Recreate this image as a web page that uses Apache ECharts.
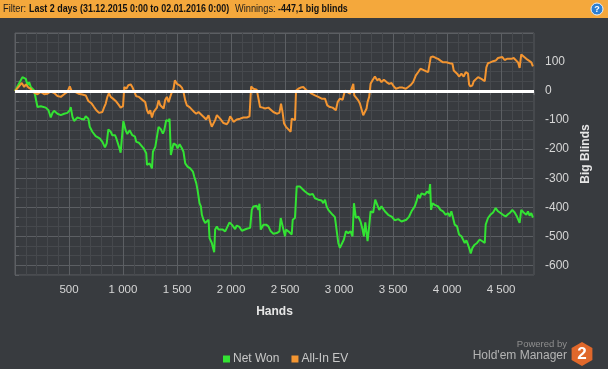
<!DOCTYPE html>
<html>
<head>
<meta charset="utf-8">
<script src="https://cdn.jsdelivr.net/npm/echarts@6.0.0/dist/echarts.min.js"></script>
<style>
html,body{margin:0;padding:0;background:#383b3f;}
#chart{width:608px;height:369px;}
</style>
</head>
<body>
<div id="chart"></div>
<script>
// ---- data (hands, big blinds) ----
const seriesNames = ['Net Won', 'All-In EV'];
const netWon = [[0,0],[14,2],[69,48],[100,42],[116,20],[131,31],[146,14],[162,20],[177,2],[193,8],[208,-55],[239,-52],[285,-57],[310,-66],[331,-91],[347,-75],[362,-68],[393,-78],[424,-83],[455,-78],[485,-75],[507,-66],[516,-55],[532,-89],[547,-103],[578,-91],[609,-95],[639,-98],[655,-87],[679,-95],[692,-123],[716,-140],[747,-155],[784,-163],[809,-175],[833,-194],[849,-180],[864,-132],[886,-140],[901,-152],[926,-152],[938,-163],[963,-192],[978,-212],[994,-209],[1003,-103],[1024,-135],[1040,-148],[1061,-135],[1086,-152],[1111,-157],[1123,-175],[1148,-178],[1160,-180],[1191,-197],[1215,-214],[1222,-254],[1246,-249],[1268,-266],[1277,-209],[1299,-192],[1314,-186],[1329,-123],[1351,-132],[1369,-146],[1382,-135],[1400,-100],[1422,-103],[1431,-95],[1443,-220],[1456,-226],[1468,-180],[1493,-186],[1505,-197],[1524,-183],[1545,-197],[1560,-209],[1576,-249],[1597,-260],[1622,-266],[1647,-277],[1659,-294],[1678,-317],[1690,-340],[1708,-386],[1721,-397],[1730,-426],[1745,-443],[1761,-454],[1776,-460],[1792,-443],[1801,-506],[1822,-523],[1844,-555],[1853,-477],[1869,-466],[1884,-477],[1899,-483],[1924,-477],[1946,-483],[1961,-477],[1986,-452],[2007,-460],[2023,-466],[2038,-475],[2053,-463],[2078,-468],[2100,-481],[2115,-477],[2146,-474],[2177,-471],[2192,-409],[2207,-397],[2238,-395],[2254,-409],[2263,-388],[2275,-477],[2300,-460],[2325,-460],[2346,-466],[2368,-483],[2392,-491],[2423,-489],[2448,-483],[2460,-437],[2472,-443],[2485,-477],[2500,-500],[2509,-477],[2531,-483],[2546,-489],[2562,-494],[2571,-443],[2592,-437],[2608,-329],[2639,-329],[2663,-338],[2685,-346],[2706,-352],[2731,-357],[2756,-354],[2777,-369],[2808,-374],[2839,-377],[2854,-386],[2870,-374],[2885,-397],[2901,-409],[2916,-414],[2941,-426],[2962,-434],[2978,-437],[2993,-523],[3008,-540],[3024,-534],[3045,-511],[3064,-483],[3085,-489],[3107,-483],[3125,-500],[3138,-386],[3156,-437],[3178,-432],[3199,-449],[3218,-477],[3230,-500],[3243,-452],[3255,-489],[3264,-517],[3279,-466],[3292,-414],[3301,-409],[3316,-418],[3335,-374],[3353,-380],[3372,-409],[3393,-397],[3424,-414],[3455,-426],[3486,-432],[3517,-445],[3548,-441],[3578,-449],[3594,-449],[3624,-443],[3649,-432],[3671,-414],[3686,-418],[3701,-397],[3717,-380],[3732,-357],[3748,-369],[3763,-352],[3794,-357],[3815,-346],[3834,-352],[3843,-320],[3852,-409],[3865,-386],[3886,-392],[3917,-397],[3939,-409],[3963,-414],[3988,-426],[4010,-420],[4025,-432],[4040,-414],[4056,-437],[4071,-460],[4093,-466],[4111,-494],[4133,-500],[4148,-506],[4164,-523],[4179,-514],[4194,-529],[4210,-546],[4219,-559],[4235,-540],[4256,-529],[4278,-523],[4302,-511],[4327,-517],[4349,-523],[4358,-460],[4370,-454],[4379,-437],[4401,-426],[4426,-418],[4450,-403],[4472,-414],[4487,-420],[4518,-426],[4543,-432],[4564,-424],[4586,-418],[4604,-409],[4626,-418],[4647,-432],[4672,-454],[4687,-409],[4709,-418],[4734,-426],[4749,-414],[4764,-429],[4780,-420],[4795,-436]];
const allInEV = [[0,0],[45,20],[63,28],[85,14],[100,23],[125,12],[146,8],[162,-3],[186,-7],[208,-11],[239,-3],[270,-11],[300,-9],[331,-1],[362,-7],[393,-17],[424,-20],[455,-11],[485,-3],[507,16],[525,0],[556,-3],[587,-9],[624,-12],[655,-15],[679,-34],[710,-43],[732,-55],[753,-66],[778,-75],[793,-80],[809,-72],[824,-57],[840,-43],[855,-20],[870,-7],[886,-20],[907,-26],[932,-34],[957,-46],[978,-57],[1000,-52],[1012,14],[1031,8],[1049,20],[1071,23],[1086,14],[1102,8],[1123,-18],[1148,-20],[1160,-26],[1185,-32],[1206,-38],[1222,-66],[1237,-78],[1252,-66],[1268,-91],[1283,-72],[1299,-66],[1314,-57],[1329,-32],[1345,-49],[1360,-55],[1376,-60],[1391,-30],[1406,-20],[1422,-38],[1437,-20],[1453,-3],[1468,8],[1480,37],[1499,25],[1524,20],[1545,12],[1560,-3],[1576,-32],[1591,-49],[1616,-55],[1638,-64],[1659,-72],[1678,-78],[1699,-72],[1715,-68],[1730,-83],[1752,-91],[1770,-98],[1792,-83],[1807,-106],[1822,-123],[1838,-118],[1853,-100],[1869,-83],[1884,-87],[1899,-95],[1915,-100],[1930,-110],[1946,-112],[1961,-114],[1976,-106],[1992,-87],[2007,-95],[2023,-106],[2038,-100],[2053,-98],[2084,-95],[2115,-91],[2146,-91],[2171,-87],[2186,16],[2207,8],[2238,5],[2254,8],[2269,-55],[2294,-57],[2315,-60],[2346,-57],[2368,-64],[2392,-72],[2423,-78],[2448,-75],[2463,-43],[2478,-75],[2491,-112],[2509,-123],[2531,-132],[2552,-140],[2562,-95],[2577,-95],[2592,-100],[2602,2],[2623,8],[2645,12],[2669,14],[2700,2],[2725,-3],[2746,-9],[2777,-15],[2808,-20],[2839,-26],[2870,-26],[2891,-49],[2916,-55],[2941,-57],[2971,-66],[2987,-38],[3008,-26],[3033,-30],[3055,2],[3076,-3],[3101,-9],[3116,-15],[3132,25],[3141,-15],[3156,-20],[3178,-32],[3193,-43],[3209,-49],[3224,-83],[3239,-87],[3255,-60],[3264,-38],[3279,-20],[3292,25],[3310,37],[3332,50],[3353,37],[3372,42],[3393,31],[3415,39],[3440,31],[3464,25],[3486,28],[3507,16],[3526,8],[3557,12],[3588,12],[3618,8],[3640,14],[3661,20],[3686,31],[3711,54],[3732,65],[3754,77],[3779,73],[3803,69],[3825,65],[3840,60],[3849,117],[3871,119],[3896,114],[3917,111],[3939,105],[3963,99],[3994,99],[4025,96],[4050,94],[4062,71],[4080,65],[4093,60],[4111,50],[4133,60],[4154,50],[4173,65],[4194,60],[4204,23],[4216,16],[4235,20],[4247,34],[4265,39],[4287,48],[4302,42],[4318,42],[4333,37],[4349,34],[4364,82],[4379,96],[4401,99],[4426,103],[4450,105],[4472,114],[4487,119],[4512,117],[4533,107],[4555,111],[4573,105],[4595,111],[4617,114],[4635,119],[4657,99],[4672,80],[4687,126],[4709,119],[4734,111],[4758,105],[4780,99],[4795,85]];
const xTickLabels = [500, 1000, 1500, 2000, 2500, 3000, 3500, 4000, 4500];
const yTickLabels = [-600, -500, -400, -300, -200, -100, 0, 100];
const handsMax = 4805;
const bbMin = -1900 / 3;
const bbMax = 200;
const headerParts = ['Filter:', 'Last 2 days (31.12.2015 0:00 to 02.01.2016 0:00)', 'Winnings:', '-447,1 big blinds'];

// ---- styles ----
const FONT = 'Liberation Sans, Arial, sans-serif';
const GREEN = '#33e333';
const ORANGE = '#f39531';
const MAJOR = '#5c5f63';
const MINOR = '#46494d';

function fmtThousands(v) {
  return String(v).replace(/\B(?=(\d{3})+(?!\d))/g, ' ');
}

const chart = echarts.init(document.getElementById('chart'), null, {renderer: 'canvas'});
chart.setOption({
  backgroundColor: '#383b3f',
  animation: false,
  textStyle: {fontFamily: FONT},
  grid: {left: 15, top: 33, width: 519, height: 242, show: true, borderColor: MAJOR, borderWidth: 1, backgroundColor: 'transparent'},
  legend: {
    data: seriesNames, left: 218, top: 348, icon: 'rect', itemWidth: 7, itemHeight: 7, itemGap: 12,
    textStyle: {color: '#c8c8c8', fontSize: 12, fontFamily: FONT, padding: [0, 0, 0, -2]},
    selectedMode: false
  },
  xAxis: {
    type: 'value', min: 0, max: handsMax, interval: 100,
    name: 'Hands', nameLocation: 'middle', nameGap: 31,
    nameTextStyle: {color: '#e6e6e6', fontWeight: 'bold', fontSize: 12, fontFamily: FONT},
    axisLine: {show: false},
    axisTick: {show: true, length: 4, lineStyle: {color: MAJOR}},
    axisLabel: {
      color: '#d6d6d6', fontSize: 11.5, margin: 9, fontFamily: FONT,
      formatter: function (v) { return xTickLabels.indexOf(Math.round(v)) >= 0 && Math.abs(v - Math.round(v)) < 1e-6 ? fmtThousands(Math.round(v)) : ''; }
    },
    splitLine: {show: true, lineStyle: {color: [MAJOR, MINOR, MINOR, MINOR, MINOR], width: 1}}
  },
  yAxis: {
    type: 'value', position: 'right', min: bbMin, max: bbMax, interval: 100 / 3,
    name: 'Big Blinds', nameLocation: 'middle', nameGap: 42, nameRotate: 90,
    nameTextStyle: {color: '#e6e6e6', fontWeight: 'bold', fontSize: 12, fontFamily: FONT},
    axisLine: {show: false},
    axisTick: {show: true, length: 4, lineStyle: {color: MAJOR}},
    axisLabel: {
      color: '#d6d6d6', fontSize: 12, margin: 11, fontFamily: FONT,
      formatter: function (v) {
        const r = Math.round(v);
        return (Math.abs(v - r) < 1e-6 && yTickLabels.indexOf(r) >= 0) ? String(r) : '';
      }
    },
    splitLine: {show: true, lineStyle: {color: [MINOR, MAJOR, MINOR], width: 1}}
  },
  series: [
    {name: seriesNames[0], type: 'line', data: netWon, showSymbol: false, symbol: 'none',
     lineStyle: {color: GREEN, width: 2}, itemStyle: {color: GREEN}},
    {name: seriesNames[1], type: 'line', data: allInEV, showSymbol: false, symbol: 'none',
     lineStyle: {color: ORANGE, width: 2}, itemStyle: {color: ORANGE},
     markLine: {silent: true, symbol: 'none', label: {show: false}, lineStyle: {color: '#ffffff', width: 3, type: 'solid'}, data: [{yAxis: 0}]}}
  ],
  graphic: [
    {type: 'rect', left: 0, top: 0, shape: {width: 608, height: 18}, style: {fill: '#f4a83c'}, z: 10},
    {type: 'text', x: 3, y: 9, scaleX: 0.84, z: 11, style: {text: headerParts[0], x: 0, y: 0, fill: '#1c1c1c', font: '11px ' + FONT, verticalAlign: 'middle'}},
    {type: 'text', x: 29, y: 9, scaleX: 0.81, z: 11, style: {text: headerParts[1], x: 0, y: 0, fill: '#111111', font: 'bold 11px ' + FONT, verticalAlign: 'middle'}},
    {type: 'text', x: 235, y: 9, scaleX: 0.84, z: 11, style: {text: headerParts[2], x: 0, y: 0, fill: '#1c1c1c', font: '11px ' + FONT, verticalAlign: 'middle'}},
    {type: 'text', x: 278, y: 9, scaleX: 0.81, z: 11, style: {text: headerParts[3], x: 0, y: 0, fill: '#111111', font: 'bold 11px ' + FONT, verticalAlign: 'middle'}},
    {type: 'circle', shape: {cx: 597, cy: 9, r: 6}, style: {fill: '#2d7fd2', stroke: '#e9f0f8', lineWidth: 1}, z: 11},
    {type: 'text', x: 597, y: 9.5, z: 12, style: {text: '?', fill: '#ffffff', font: 'bold 9px ' + FONT, align: 'center', verticalAlign: 'middle'}},
    {type: 'text', x: 567, y: 344, style: {text: 'Powered by', fill: '#8f8f8f', font: '9.5px ' + FONT, align: 'right', verticalAlign: 'middle'}},
    {type: 'text', x: 567, y: 356, style: {text: "Hold'em Manager", fill: '#b4b4b4', font: '12px ' + FONT, align: 'right', verticalAlign: 'middle'}},
    {type: 'polygon', shape: {points: [[582, 342], [592.4, 348], [592.4, 360], [582, 366], [571.6, 360], [571.6, 348]]}, style: {fill: '#e0682b'}},
    {type: 'text', x: 582, y: 354.5, style: {text: '2', fill: '#ffffff', font: 'bold 17px ' + FONT, align: 'center', verticalAlign: 'middle'}}
  ]
});
</script>
</body>
</html>
